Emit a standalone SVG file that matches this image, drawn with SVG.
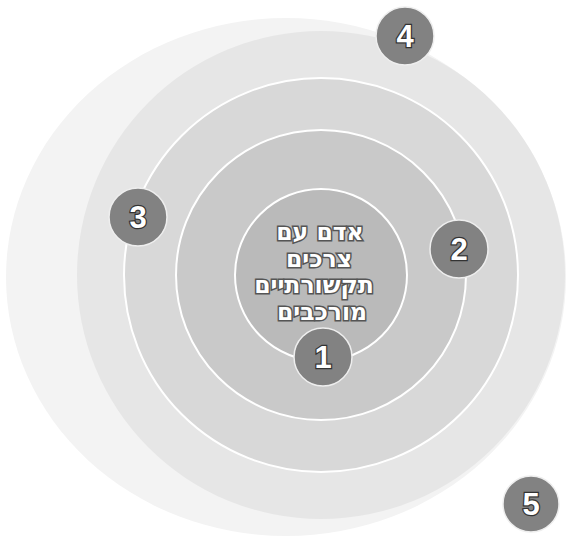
<svg xmlns="http://www.w3.org/2000/svg" width="573" height="538" viewBox="0 0 573 538">
<style>
.ring{stroke:#ffffff;stroke-width:2}
.badge{fill:#828282;stroke:#eeeeee;stroke-width:1.5}
.num{font-family:"Liberation Sans",Arial,sans-serif;font-weight:bold;font-size:31px;fill:#ffffff;stroke:#333333;stroke-width:2.5;paint-order:stroke;text-anchor:middle}
.heb{font-family:"DejaVu Sans","Noto Sans",sans-serif;font-weight:bold;font-size:23.5px;fill:#ffffff;stroke:#555555;stroke-width:3;paint-order:stroke;text-anchor:middle}
</style>
<rect width="573" height="538" fill="#ffffff"/>
<g id="rings">
<ellipse id="ring5" cx="286" cy="277" rx="280" ry="259" fill="#f3f3f3"/>
<circle id="ring4" cx="321" cy="275" r="244" fill="#e6e6e6"/>
<circle id="ring3" class="ring" cx="321" cy="275" r="197" fill="#d8d8d8"/>
<circle id="ring2" class="ring" cx="321" cy="275" r="145" fill="#c9c9c9"/>
<circle id="ring1" class="ring" cx="321" cy="275" r="86" fill="#bababa"/>
</g>
<g id="center-label">
<text class="heb" x="320" y="240" direction="rtl">אדם עם</text>
<text class="heb" x="319" y="266.5" direction="rtl">צרכים</text>
<text class="heb" x="314" y="293" direction="rtl">תקשורתיים</text>
<text class="heb" x="322" y="319.5" direction="rtl">מורכבים</text>
</g>
<g id="node1"><circle class="badge" cx="323" cy="357" r="29"/><text class="num" x="323" y="368">1</text></g>
<g id="node2"><circle class="badge" cx="459" cy="249" r="29"/><text class="num" x="459" y="260">2</text></g>
<g id="node3"><circle class="badge" cx="138" cy="217" r="29"/><text class="num" x="138" y="228">3</text></g>
<g id="node4"><circle class="badge" cx="405" cy="36" r="29"/><text class="num" x="405" y="47">4</text></g>
<g id="node5"><circle class="badge" cx="531" cy="504" r="28"/><text class="num" x="531" y="515">5</text></g>
</svg>
